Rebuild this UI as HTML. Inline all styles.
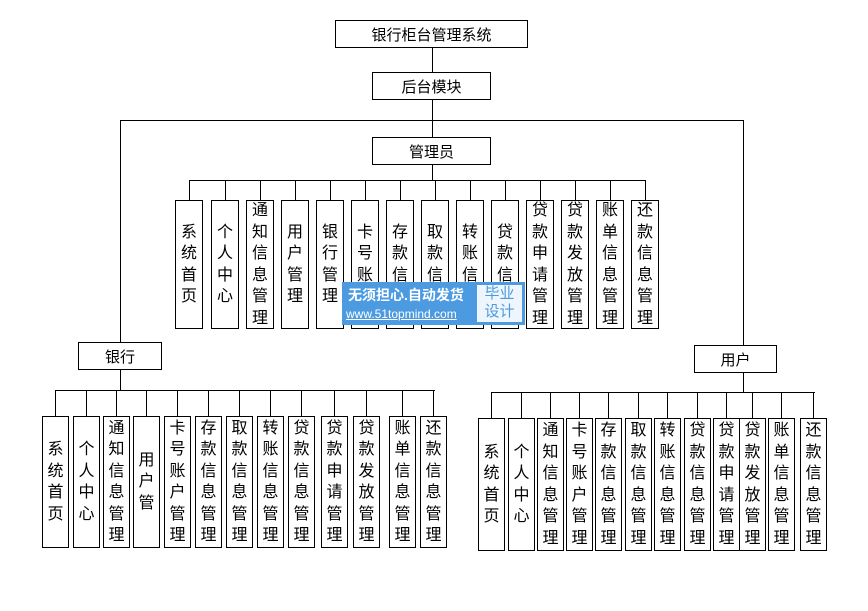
<!DOCTYPE html>
<html><head><meta charset="utf-8"><style>
body{margin:0;width:868px;height:611px;background:#fff;position:relative;overflow:hidden;font-family:"Liberation Sans","Noto Sans CJK SC",sans-serif;color:#000}
.b{position:absolute;border:1px solid #000;box-sizing:border-box;background:#fff;display:flex;align-items:center;justify-content:center;font-size:15px}
.v{position:absolute;border:1px solid #000;box-sizing:border-box;background:#fff;display:flex;align-items:center;justify-content:center;font-size:16px;line-height:21.5px;text-align:center;width:28px}
.h{position:absolute;height:1px;background:#000}
.l{position:absolute;width:1px;background:#000}
</style></head><body>
<div class="b" style="left:335px;top:20px;width:193px;height:28px">银行柜台管理系统</div>
<div class="l" style="left:432px;top:48px;height:24px"></div>
<div class="b" style="left:372px;top:72px;width:119px;height:28px">后台模块</div>
<div class="l" style="left:432px;top:100px;height:37px"></div>
<div class="h" style="left:120px;top:120px;width:624px"></div>
<div class="l" style="left:120px;top:120px;height:222px"></div>
<div class="l" style="left:743px;top:120px;height:225px"></div>
<div class="b" style="left:372px;top:137px;width:119px;height:28px">管理员</div>
<div class="l" style="left:432px;top:165px;height:15px"></div>
<div id="admin"></div>
<div class="b" style="left:78px;top:342px;width:84px;height:28px">银行</div>
<div class="l" style="left:120px;top:370px;height:20px"></div>
<div class="b" style="left:694px;top:345px;width:83px;height:28px">用户</div>
<div class="l" style="left:743px;top:373px;height:19px"></div>
<div id="rest"></div>
<div style="position:absolute;left:342px;top:282px;width:183px;height:43px;background:#4c9ae0"></div>
<div style="position:absolute;left:348px;top:285px;color:#fff;font-size:14px;font-weight:bold">无须担心.自动发货</div>
<div style="position:absolute;left:346px;top:307px;color:#fff;font-size:12px;text-decoration:underline">www.51topmind.com</div>
<div style="position:absolute;left:477px;top:285px;width:45px;height:37px;background:#eef5fc;color:#4c9ae0;font-size:15px;line-height:18px;text-align:center">毕业<br>设计</div>
<script>
function add(cfg){
 var h='';
 var xs=cfg.xs, labels=cfg.labels;
 var c0=xs[0]+cfg.w/2, c1=xs[xs.length-1]+cfg.w/2;
 h+='<div class="h" style="left:'+c0+'px;top:'+cfg.hy+'px;width:'+(c1-c0+1)+'px"></div>';
 for(var i=0;i<xs.length;i++){
  var c=xs[i]+Math.floor(cfg.w/2);
  h+='<div class="l" style="left:'+c+'px;top:'+cfg.hy+'px;height:'+(cfg.top-cfg.hy)+'px"></div>';
  h+='<div class="v" style="left:'+xs[i]+'px;top:'+cfg.top+'px;height:'+(cfg.bot-cfg.top)+'px;width:'+cfg.w+'px">'+labels[i].split('').join('<br>')+'</div>';
 }
 return h;
}
var A=add({xs:[175,211,246,281,316,351,386,421,456,491,526,561,596,631],w:28,hy:180,top:200,bot:329,
labels:['系统首页','个人中心','通知信息管理','用户管理','银行管理','卡号账户','存款信息','取款信息','转账信息','贷款信息','贷款申请管理','贷款发放管理','账单信息管理','还款信息管理']});
var B=add({xs:[42,73,103,133,164,195,226,257,288,321,353,389,420],w:27,hy:390,top:416,bot:548,
labels:['系统首页','个人中心','通知信息管理','用户管','卡号账户管理','存款信息管理','取款信息管理','转账信息管理','贷款信息管理','贷款申请管理','贷款发放管理','账单信息管理','还款信息管理']});
var C=add({xs:[478,508,537,566,595,625,654,684,713,739,768,800],w:27,hy:392,top:418,bot:551,
labels:['系统首页','个人中心','通知信息管理','卡号账户管理','存款信息管理','取款信息管理','转账信息管理','贷款信息管理','贷款申请管理','贷款发放管理','账单信息管理','还款信息管理']});
document.getElementById('admin').innerHTML=A;
document.getElementById('rest').innerHTML=B+C;
</script>
</body></html>
